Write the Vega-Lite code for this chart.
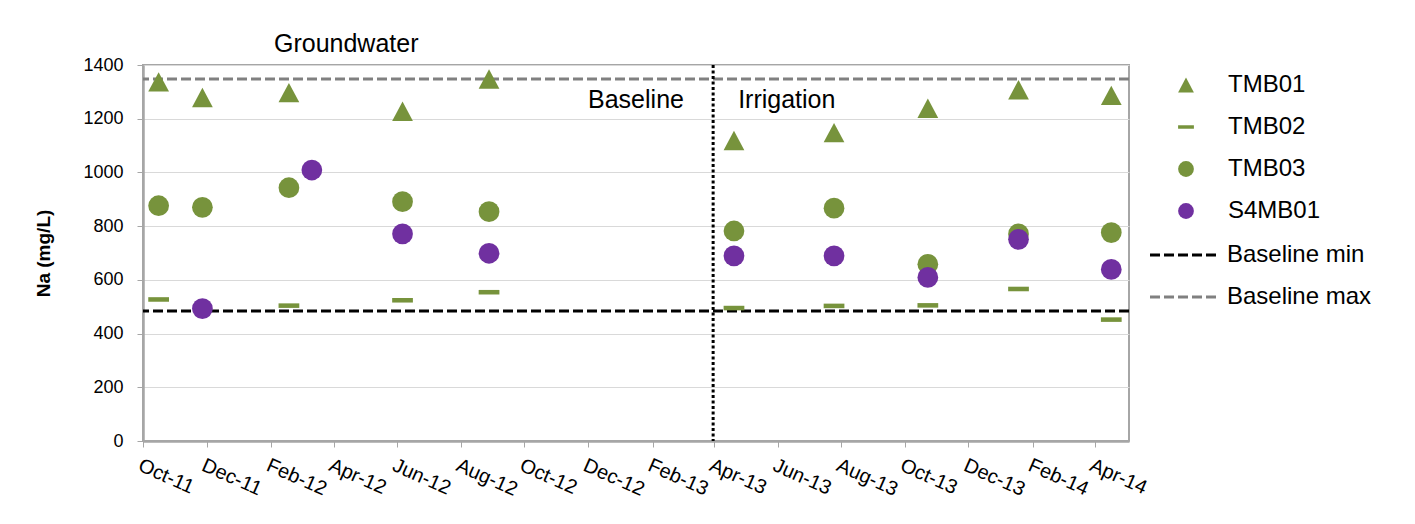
{
  "$schema": "https://vega.github.io/schema/vega-lite/v6.json",
  "width": 986,
  "height": 376,
  "autosize": "none",
  "padding": {"left": 143, "top": 65, "right": 286, "bottom": 83},
  "background": "white",
  "config": {
    "font": "Liberation Sans",
    "view": {"stroke": "#a6a6a6", "strokeWidth": 2},
    "axis": {
      "labelFont": "Liberation Sans",
      "labelColor": "#000000",
      "labelFontSize": 18,
      "tickColor": "#a6a6a6",
      "domainColor": "#a6a6a6",
      "domainWidth": 2.5,
      "tickSize": 6,
      "gridColor": "#d9d9d9",
      "titleFont": "Liberation Sans",
      "titleColor": "#000000",
      "titleFontSize": 19,
      "titleFontWeight": "bold"
    },
    "legend": {
      "labelFont": "Liberation Sans",
      "labelColor": "#000000",
      "labelFontSize": 24
    }
  },
  "datasets": {
    "points": [
      {"date": "2011-10-16", "series": "TMB01", "value": 1337},
      {"date": "2011-11-27", "series": "TMB01", "value": 1279},
      {"date": "2012-02-18", "series": "TMB01", "value": 1297},
      {"date": "2012-06-06", "series": "TMB01", "value": 1228},
      {"date": "2012-08-28", "series": "TMB01", "value": 1348},
      {"date": "2013-04-20", "series": "TMB01", "value": 1119},
      {"date": "2013-07-25", "series": "TMB01", "value": 1148},
      {"date": "2013-10-23", "series": "TMB01", "value": 1239},
      {"date": "2014-01-18", "series": "TMB01", "value": 1308},
      {"date": "2014-04-17", "series": "TMB01", "value": 1287},
      {"date": "2011-10-16", "series": "TMB02", "value": 527},
      {"date": "2012-02-18", "series": "TMB02", "value": 504},
      {"date": "2012-06-06", "series": "TMB02", "value": 524},
      {"date": "2012-08-28", "series": "TMB02", "value": 554},
      {"date": "2013-04-20", "series": "TMB02", "value": 495},
      {"date": "2013-07-25", "series": "TMB02", "value": 503},
      {"date": "2013-10-23", "series": "TMB02", "value": 505},
      {"date": "2014-01-18", "series": "TMB02", "value": 566},
      {"date": "2014-04-17", "series": "TMB02", "value": 452},
      {"date": "2011-10-16", "series": "TMB03", "value": 876},
      {"date": "2011-11-27", "series": "TMB03", "value": 870},
      {"date": "2012-02-18", "series": "TMB03", "value": 943},
      {"date": "2012-06-06", "series": "TMB03", "value": 891},
      {"date": "2012-08-28", "series": "TMB03", "value": 854},
      {"date": "2013-04-20", "series": "TMB03", "value": 782},
      {"date": "2013-07-25", "series": "TMB03", "value": 867},
      {"date": "2013-10-23", "series": "TMB03", "value": 658},
      {"date": "2014-01-18", "series": "TMB03", "value": 771},
      {"date": "2014-04-17", "series": "TMB03", "value": 776},
      {"date": "2011-11-27", "series": "S4MB01", "value": 493},
      {"date": "2012-03-11", "series": "S4MB01", "value": 1009},
      {"date": "2012-06-06", "series": "S4MB01", "value": 771},
      {"date": "2012-08-28", "series": "S4MB01", "value": 699},
      {"date": "2013-04-20", "series": "S4MB01", "value": 689},
      {"date": "2013-07-25", "series": "S4MB01", "value": 689},
      {"date": "2013-10-23", "series": "S4MB01", "value": 609},
      {"date": "2014-01-18", "series": "S4MB01", "value": 751},
      {"date": "2014-04-17", "series": "S4MB01", "value": 639}
    ],
    "baselines": [
      {"line": "Baseline min", "value": 484},
      {"line": "Baseline max", "value": 1348}
    ],
    "divider": [
      {"date": "2013-03-31"}
    ],
    "label_gw": [{"date": "2012-04-13", "value": 1448, "text": "Groundwater"}],
    "label_base": [{"date": "2013-03-03", "value": 1240, "text": "Baseline"}],
    "label_irr": [{"date": "2013-04-24", "value": 1240, "text": "Irrigation"}]
  },
  "resolve": {
    "scale": {"color": "independent"},
    "legend": {"color": "independent", "shape": "independent", "strokeDash": "independent"}
  },
  "layer": [
    {
      "data": {"name": "baselines"},
      "mark": {"type": "rule", "strokeWidth": 3},
      "encoding": {
        "y": {
          "field": "value", "type": "quantitative", "title": "Na (mg/L)",
          "scale": {"domain": [0, 1400], "nice": false},
          "axis": {"values": [0, 200, 400, 600, 800, 1000, 1200, 1400], "format": "d", "grid": true, "gridColor": "#d9d9d9", "labelPadding": 14, "tickSize": 6, "titleFontSize": 19, "titleFontWeight": "bold", "titlePadding": 29, "labelFontSize": 18}
        },
        "color": {
          "field": "line", "type": "nominal",
          "scale": {"domain": ["Baseline min", "Baseline max"], "range": ["#000000", "#808080"]},
          "legend": {
            "orient": "none", "legendX": 1030, "legendY": 178, "title": null,
            "symbolType": "M-5,0H5", "symbolSize": 196, "symbolStrokeWidth": 3,
            "labelOffset": 30, "labelFontSize": 24, "rowPadding": 18
          }
        },
        "strokeDash": {
          "field": "line", "type": "nominal",
          "scale": {"domain": ["Baseline min", "Baseline max"], "range": [[10, 4], [10, 4]]},
          "legend": {
            "orient": "none", "legendX": 1030, "legendY": 178, "title": null,
            "symbolType": "M-5,0H5", "symbolSize": 196, "symbolStrokeWidth": 3,
            "labelOffset": 30, "labelFontSize": 24, "rowPadding": 18
          }
        }
      }
    },
    {
      "data": {"name": "divider"},
      "mark": {"type": "rule", "color": "#000000", "strokeWidth": 3, "strokeDash": [3, 2.5]},
      "encoding": {
        "x": {
          "field": "date", "type": "temporal", "title": null,
          "scale": {"type": "utc", "domain": [{"year": 2011, "month": 10, "date": 1, "utc": true}, {"year": 2014, "month": 5, "date": 4, "utc": true}]},
          "axis": {
            "values": [
              {"year": 2011, "month": 10, "date": 1, "utc": true},
              {"year": 2011, "month": 12, "date": 1, "utc": true},
              {"year": 2012, "month": 2, "date": 1, "utc": true},
              {"year": 2012, "month": 4, "date": 1, "utc": true},
              {"year": 2012, "month": 6, "date": 1, "utc": true},
              {"year": 2012, "month": 8, "date": 1, "utc": true},
              {"year": 2012, "month": 10, "date": 1, "utc": true},
              {"year": 2012, "month": 12, "date": 1, "utc": true},
              {"year": 2013, "month": 2, "date": 1, "utc": true},
              {"year": 2013, "month": 4, "date": 1, "utc": true},
              {"year": 2013, "month": 6, "date": 1, "utc": true},
              {"year": 2013, "month": 8, "date": 1, "utc": true},
              {"year": 2013, "month": 10, "date": 1, "utc": true},
              {"year": 2013, "month": 12, "date": 1, "utc": true},
              {"year": 2014, "month": 2, "date": 1, "utc": true},
              {"year": 2014, "month": 4, "date": 1, "utc": true}
            ],
            "labelExpr": "utcFormat(datum.value, '%b-%y')",
            "labelAngle": 24, "labelAlign": "left", "labelBaseline": "top",
            "labelPadding": 8, "labelOverlap": false, "grid": false, "tickSize": 6,
            "labelFontSize": 20
          }
        }
      }
    },
    {
      "data": {"name": "points"},
      "mark": {"type": "point", "filled": true, "opacity": 1, "size": 430, "strokeWidth": 0},
      "encoding": {
        "x": {
          "field": "date", "type": "temporal", "title": null,
          "scale": {"type": "utc", "domain": [{"year": 2011, "month": 10, "date": 1, "utc": true}, {"year": 2014, "month": 5, "date": 4, "utc": true}]},
          "axis": {
            "values": [
              {"year": 2011, "month": 10, "date": 1, "utc": true},
              {"year": 2011, "month": 12, "date": 1, "utc": true},
              {"year": 2012, "month": 2, "date": 1, "utc": true},
              {"year": 2012, "month": 4, "date": 1, "utc": true},
              {"year": 2012, "month": 6, "date": 1, "utc": true},
              {"year": 2012, "month": 8, "date": 1, "utc": true},
              {"year": 2012, "month": 10, "date": 1, "utc": true},
              {"year": 2012, "month": 12, "date": 1, "utc": true},
              {"year": 2013, "month": 2, "date": 1, "utc": true},
              {"year": 2013, "month": 4, "date": 1, "utc": true},
              {"year": 2013, "month": 6, "date": 1, "utc": true},
              {"year": 2013, "month": 8, "date": 1, "utc": true},
              {"year": 2013, "month": 10, "date": 1, "utc": true},
              {"year": 2013, "month": 12, "date": 1, "utc": true},
              {"year": 2014, "month": 2, "date": 1, "utc": true},
              {"year": 2014, "month": 4, "date": 1, "utc": true}
            ],
            "labelExpr": "utcFormat(datum.value, '%b-%y')",
            "labelAngle": 24, "labelAlign": "left", "labelBaseline": "top",
            "labelPadding": 8, "labelOverlap": false, "grid": false, "tickSize": 6,
            "labelFontSize": 20
          }
        },
        "y": {
          "field": "value", "type": "quantitative", "title": "Na (mg/L)",
          "scale": {"domain": [0, 1400], "nice": false},
          "axis": {"values": [0, 200, 400, 600, 800, 1000, 1200, 1400], "format": "d", "grid": true, "gridColor": "#d9d9d9", "labelPadding": 14, "tickSize": 6, "titleFontSize": 19, "titleFontWeight": "bold", "titlePadding": 29, "labelFontSize": 18}
        },
        "color": {
          "field": "series", "type": "nominal",
          "scale": {"domain": ["TMB01", "TMB02", "TMB03", "S4MB01"], "range": ["#77933C", "#77933C", "#77933C", "#7030A0"]},
          "legend": {
            "orient": "none", "legendX": 1031, "legendY": 8, "title": null,
            "symbolSize": 250, "labelOffset": 30, "labelFontSize": 24, "rowPadding": 18, "symbolStrokeWidth": 0
          }
        },
        "shape": {
          "field": "series", "type": "nominal",
          "scale": {"domain": ["TMB01", "TMB02", "TMB03", "S4MB01"], "range": ["M0,-0.935L1,0.935L-1,0.935Z", "M-1,-0.22L1,-0.22L1,0.22L-1,0.22Z", "circle", "circle"]},
          "legend": {
            "orient": "none", "legendX": 1031, "legendY": 8, "title": null,
            "symbolSize": 250, "labelOffset": 30, "labelFontSize": 24, "rowPadding": 18, "symbolStrokeWidth": 0
          }
        }
      }
    },
    {
      "data": {"name": "label_gw"},
      "mark": {"type": "text", "fontSize": 25, "align": "center", "baseline": "alphabetic", "color": "#000000", "font": "Liberation Sans"},
      "encoding": {
        "x": {"field": "date", "type": "temporal", "title": null},
        "y": {"field": "value", "type": "quantitative", "title": "Na (mg/L)"},
        "text": {"field": "text"}
      }
    },
    {
      "data": {"name": "label_base"},
      "mark": {"type": "text", "fontSize": 25, "align": "right", "baseline": "alphabetic", "color": "#000000", "font": "Liberation Sans"},
      "encoding": {
        "x": {"field": "date", "type": "temporal", "title": null},
        "y": {"field": "value", "type": "quantitative", "title": "Na (mg/L)"},
        "text": {"field": "text"}
      }
    },
    {
      "data": {"name": "label_irr"},
      "mark": {"type": "text", "fontSize": 25, "align": "left", "baseline": "alphabetic", "color": "#000000", "font": "Liberation Sans"},
      "encoding": {
        "x": {"field": "date", "type": "temporal", "title": null},
        "y": {"field": "value", "type": "quantitative", "title": "Na (mg/L)"},
        "text": {"field": "text"}
      }
    }
  ]
}
